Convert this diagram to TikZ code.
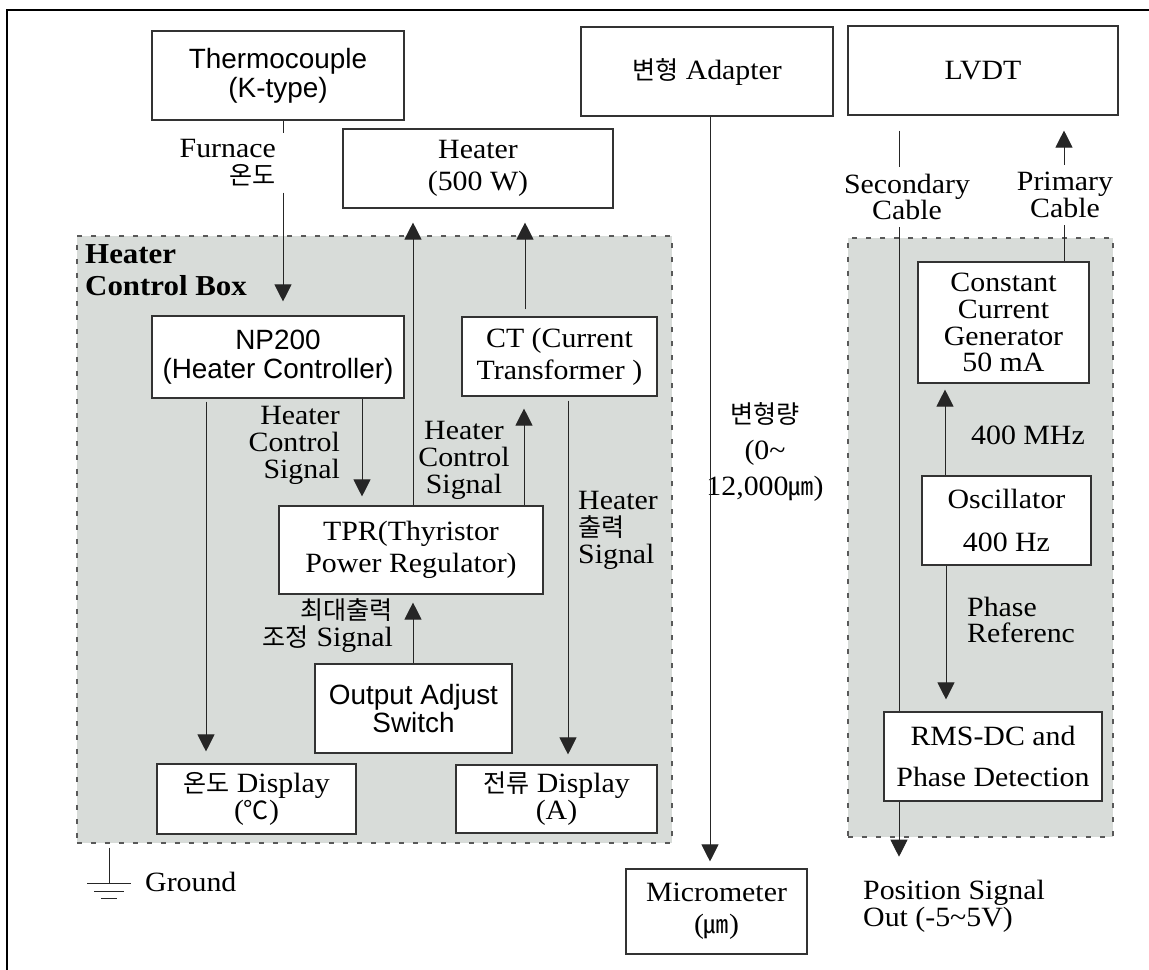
\documentclass[tikz,border=0pt]{standalone}
\usepackage{fontspec}
\setmainfont{Liberation Serif}[FakeStretch=1.07]
\setsansfont{Liberation Sans}
\newfontfamily\kr[Scale=0.9]{Noto Sans CJK KR}
\usetikzlibrary{arrows.meta, positioning}

\newcommand\boxfont{\fontsize{28}{32}\selectfont}
\newcommand\sfboxfont{\sffamily\fontsize{28}{29}\selectfont}
\newcommand\lblfont{\fontsize{28}{27}\selectfont}
\definecolor{panelgray}{RGB}{216,220,217}

\begin{document}
\begin{tikzpicture}[x=1bp, y=-1bp, >={Triangle[width=17bp,length=17bp]},
  box/.style={draw=black!80, line width=1.1bp, fill=white, align=center, inner sep=0pt, font=\boxfont},
  sfnode/.style={box, font=\sfboxfont},
  panel/.style={fill=panelgray, draw=black!65, line width=1.2bp, dash pattern=on 5bp off 9bp, inner sep=0pt},
  wire/.style={draw=black!85, line width=1bp},
  tag/.style={font=\lblfont, inner sep=0pt}]

\useasboundingbox (0,0) rectangle (1149,970);

% frame
\draw[line width=1.3bp] (7,970) -- (7,10) -- (1149,10);

% top row
\node[sfnode, minimum width=252bp, minimum height=89bp] (tc) at (278,75.5) {Thermocouple\\(K-type)};
\node[box, minimum width=270bp, minimum height=79bp] (heater) at (478,168.5) {Heater\\(500 W)};
\node[box, minimum width=252bp, minimum height=89bp] (adapter) at (707,71.5) {{\kr 변형} Adapter};
\node[box, minimum width=270bp, minimum height=89bp] (lvdt) at (983,70.5) {LVDT};

% panels
\node[panel, minimum width=595bp, minimum height=607bp] (hcb) at (374.5,539.5) {};
\node[panel, minimum width=265bp, minimum height=599bp] (lvdtbox) at (980.5,537.5) {};
\node[font=\fontsize{29}{32}\selectfont\bfseries, align=left, anchor=north west, inner sep=0pt] (hcbname) at (85,244) {Heater\\Control Box};

% heater control box
\node[sfnode, minimum width=252bp, minimum height=82bp] (np) at (278,357) {NP200\\(Heater Controller)};
\node[box, minimum width=195bp, minimum height=79bp] (ct) at (559.5,356.5) {CT (Current\\Transformer )};
\node[box, minimum width=264bp, minimum height=88bp] (tpr) at (411,550) {TPR(Thyristor\\Power Regulator)};
\node[sfnode, minimum width=197bp, minimum height=89bp] (oas) at (413.5,708.5) {Output Adjust\\Switch};
\node[box, minimum width=199bp, minimum height=70bp] (tdisp) at (256.5,799) {{\kr 온도} Display\\[-5bp]({\kr ℃})};
\node[box, minimum width=201bp, minimum height=68bp] (cdisp) at (556.5,799) {{\kr 전류} Display\\[-5bp](A)};

% LVDT box
\node[box, font=\lblfont, minimum width=171bp, minimum height=121bp] (ccg) at (1003.5,322.5) {Constant\\Current\\Generator\\50 mA};
\node[box, minimum width=169bp, minimum height=89bp] (osc) at (1006.5,520.5) {Oscillator\\[11bp]400 Hz};
\node[box, minimum width=218bp, minimum height=89bp] (rms) at (993,756.5) {RMS-DC and\\[9bp]Phase Detection};
\node[box, minimum width=181bp, minimum height=85bp] (micro) at (716.5,911.5) {Micrometer\\({\kr ㎛})};

% labels
\node[tag, align=right, anchor=east, inner ysep=6bp] (furn) at (276,163) {Furnace\\{\kr 온도}};
\node[tag, align=right, anchor=east] (hcs1) at (340,445) {Heater\\Control\\Signal};
\node[tag, align=center] (hcs2) at (464,460) {Heater\\Control\\Signal};
\node[tag, align=left, anchor=west] (hos) at (578,530) {Heater\\{\kr 출력}\\Signal};
\node[tag, align=right, anchor=east] (maxs) at (393,626) {{\kr 최대출력}\\{\kr 조정} Signal};
\node[tag, align=center] (defo) at (765,452) {{\kr 변형량}\\[9bp](0\textasciitilde\\[9bp]12,000{\kr ㎛})};
\node[tag, align=center, inner ysep=7bp] (sec) at (907,197) {Secondary\\Cable};
\node[tag, align=center, inner ysep=7bp] (prim) at (1065,195) {Primary\\Cable};
\node[tag] (mhz) at (1028,435) {400 MHz};
\node[tag, align=left, anchor=west] (phref) at (967,620) {Phase\\Referenc};
\node[tag, align=left, anchor=west] (pos) at (863,906) {Position Signal\\Out (-5\textasciitilde5V)};
\node[tag, anchor=west] (gndtxt) at (145,882) {Ground};

% heater control connectors
\draw[wire] (tc.south -| 283,0) -- (furn.north -| 283,0);
\draw[wire, ->, shorten >=14bp] (furn.south -| 283,0) -- (np.north -| 283,0);
\draw[wire, ->, shorten <=3bp, shorten >=12bp] (np.south -| 206,0) -- (tdisp.north -| 206,0);
\draw[wire, ->, shorten >=9bp] (np.south -| 362,0) -- (tpr.north -| 362,0);
\draw[wire, ->, shorten >=14bp] (tpr.north -| 413,0) -- (heater.south -| 413,0);
\draw[wire, ->, shorten >=12bp] (tpr.north -| 524,0) -- (ct.south -| 524,0);
\draw[wire, ->, shorten <=7bp, shorten >=14bp] (ct.north -| 525,0) -- (heater.south -| 525,0);
\draw[wire, ->, shorten <=4bp, shorten >=10bp] (ct.south -| 568,0) -- (cdisp.north -| 568,0);
\draw[wire, ->, shorten >=8bp] (oas.north -| 413,0) -- (tpr.south -| 413,0);

% adapter
\draw[wire, ->, shorten >=7bp] (adapter.south -| 710,0) -- (micro.north -| 710,0);

% LVDT connectors
\draw[wire, shorten <=15bp] (lvdt.south -| 899,0) -- (sec.north -| 899,0);
\draw[wire] (sec.south -| 899,0) -- (rms.north -| 899,0);
\draw[wire, ->, shorten >=23bp] (rms.south -| 899,0) -- (pos.north -| 899,0);
\draw[wire] (ccg.north -| 1064,0) -- (prim.south -| 1064,0);
\draw[wire, ->, shorten >=15bp] (prim.north -| 1064,0) -- (lvdt.south -| 1064,0);
\draw[wire, ->, shorten >=6bp] (osc.north -| 945,0) -- (ccg.south -| 945,0);
\draw[wire, ->, shorten >=12bp] (osc.south -| 946,0) -- (rms.north -| 946,0);

% ground
\coordinate (gnd) at (109,883);
\draw[wire, shorten <=4bp] (hcb.south -| gnd) -- (gnd);
\draw[wire] ([xshift=-22bp]gnd) -- ([xshift=22bp]gnd);
\draw[wire] ([xshift=-15bp,yshift=-8bp]gnd) -- ([xshift=15bp,yshift=-8bp]gnd);
\draw[wire] ([xshift=-8bp,yshift=-15bp]gnd) -- ([xshift=8bp,yshift=-15bp]gnd);

\end{tikzpicture}
\end{document}
